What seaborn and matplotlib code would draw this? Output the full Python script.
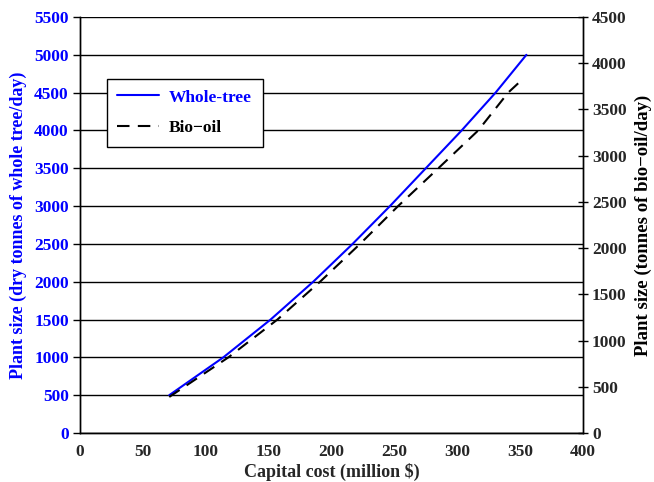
import matplotlib
matplotlib.use("Agg")
import matplotlib.pyplot as plt
import seaborn as sns

# capital cost (million $) vs plant size
cost_tree = [71, 114, 151.6, 185.5, 216.8, 246.5, 275, 303.5, 330.5, 355]
size_tree = [500, 1000, 1500, 2000, 2500, 3000, 3500, 4000, 4500, 5000]

cost_oil = [71, 118, 157, 190.9, 222.7, 253, 285, 316.7, 340.5, 353]
size_oil = [390, 818, 1227, 1636, 2045, 2455, 2864, 3273, 3682, 3840]

x_ticks = [0, 50, 100, 150, 200, 250, 300, 350, 400]
left_ticks = list(range(0, 5501, 500))
right_ticks = list(range(0, 4501, 500))


def main():
    sns.set_style("white")
    plt.rcParams['font.family'] = ['Liberation Serif', 'DejaVu Serif']
    plt.rcParams['font.weight'] = 'bold'

    fig = plt.figure(figsize=(6.54, 4.82), dpi=100)
    ax = fig.add_axes([0.1223, 0.1017, 0.7691, 0.863])
    ax2 = ax.twinx()

    sns.lineplot(x=cost_tree, y=size_tree, ax=ax, color='#0000ff', lw=1.5,
                 label='Whole-tree', legend=False)
    sns.lineplot(x=cost_oil, y=size_oil, ax=ax2, color='black', lw=1.5,
                 label='Bio\u2212oil', legend=False)
    ax2.lines[0].set_dashes((6, 4))

    ax.set_xlim(0, 400)
    ax.set_ylim(0, 5500)
    ax2.set_ylim(0, 4500)
    ax.set_xticks(x_ticks)
    ax.set_yticks(left_ticks)
    ax2.set_yticks(right_ticks)

    ax.yaxis.grid(True, color='black', lw=1)
    ax.set_axisbelow(True)

    for sp in ['left', 'bottom', 'right']:
        ax.spines[sp].set_color('black')
        ax.spines[sp].set_linewidth(1)
        ax2.spines[sp].set_color('black')
        ax2.spines[sp].set_linewidth(1)
    ax.spines['top'].set_visible(False)
    ax2.spines['top'].set_visible(False)

    ax.tick_params(axis='x', direction='out', length=4, width=1, color='black',
                   labelsize=12.5, pad=4)
    ax.tick_params(axis='y', direction='out', length=5, width=1, color='black',
                   labelsize=12.5, labelcolor='#0000ff', pad=3)
    ax2.tick_params(axis='y', direction='inout', length=7, width=1, color='black',
                    labelsize=12.5, pad=3)
    for lbl in ax.get_xticklabels() + ax.get_yticklabels() + ax2.get_yticklabels():
        lbl.set_fontweight('bold')

    ax.set_xlabel('Capital cost (million $)', fontsize=13, fontweight='bold', labelpad=2)
    ax.set_ylabel('Plant size (dry tonnes of whole tree/day)', fontsize=13,
                  fontweight='bold', color='#0000ff', labelpad=5)
    ax2.set_ylabel('Plant size (tonnes of bio\u2212oil/day)', fontsize=13.5,
                   fontweight='bold', color='black', labelpad=6)

    handles = ax.lines[:1] + ax2.lines[:1]
    leg = ax2.legend(handles, ['Whole-tree', 'Bio\u2212oil'],
                     loc='upper left', bbox_to_anchor=(0.053, 0.851),
                     frameon=True, fancybox=False, framealpha=1,
                     edgecolor='black', fontsize=12.5, handlelength=2.4,
                     borderpad=0.6, labelspacing=0.85, handletextpad=0.6,
                     borderaxespad=0)
    leg.get_frame().set_linewidth(1)
    for t, c in zip(leg.get_texts(), ['#0000ff', 'black']):
        t.set_color(c)
        t.set_fontweight('bold')

    fig.savefig('out.png', dpi=100)


if __name__ == '__main__':
    main()
